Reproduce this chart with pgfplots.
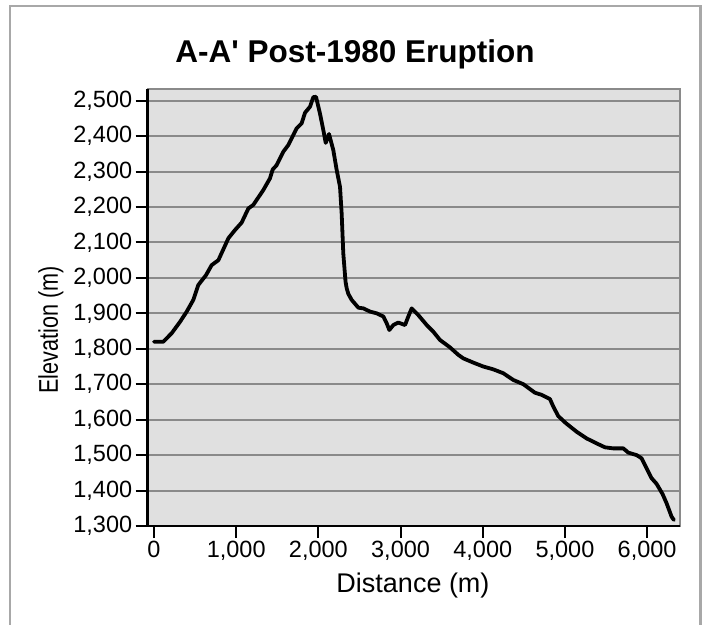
\documentclass[border=0pt]{standalone}
\usepackage{pgfplots}
\pgfplotsset{compat=1.18}
\usepackage{fontspec}
\setmainfont{Liberation Sans}
\definecolor{bg}{HTML}{E0E0E0}
\definecolor{gridc}{HTML}{8A8A8A}
\definecolor{framec}{HTML}{A8A8A8}
\begin{document}
\begin{tikzpicture}
\useasboundingbox (0pt,0pt) rectangle (709pt,624pt);
\draw[framec, line width=2.2pt] (10pt,-5pt) -- (10pt,618pt) -- (700.5pt,618pt) -- (700.5pt,-5pt);
\node[font=\fontsize{31.5}{38}\selectfont\bfseries, anchor=base, inner sep=0pt] at (355pt,561.3pt) {A-A\textquotesingle{} Post-1980 Eruption};
\begin{axis}[
  at={(147.7pt,98pt)}, anchor=south west,
  scale only axis, width=532.3pt, height=437pt,
  xmin=-77, xmax=6400, ymin=1300, ymax=2533,
  xtick={0,1000,...,6000},
  ytick={1300,1400,...,2500},
  xtick pos=bottom, ytick pos=left,
  tick align=outside,
  major tick length=12pt,
  tick style={black, line width=2pt},
  ymajorgrids,
  major grid style={gridc, line width=2pt},
  axis line style={gridc, line width=2pt},
  axis background/.style={fill=bg},
  tick label style={font=\fontsize{23.5}{28}\selectfont},
  /pgf/number format/.cd, 1000 sep={,}, assume math mode=true,
  /pgfplots/.cd,
  xlabel={Distance (m)},
  ylabel={\scalebox{0.8}[1]{Elevation (m)}},
  label style={font=\fontsize{27}{32}\selectfont},
  xlabel style={at={(axis description cs:0.4984,-0.1373)}, anchor=center},
  ylabel style={at={(axis description cs:-0.1817,0.4485)}, anchor=center},
  clip=false,
]
\addplot[black, line width=3.8pt, line join=round, line cap=round] table[row sep=\\] {
x y\\
0 1820\\
113 1820\\
215 1844\\
316 1876\\
398 1905\\
478 1938\\
539 1980\\
633 2008\\
701 2036\\
783 2050\\
905 2112\\
985 2135\\
1066 2156\\
1148 2196\\
1208 2206\\
1330 2248\\
1411 2281\\
1444 2306\\
1492 2318\\
1573 2356\\
1634 2375\\
1735 2422\\
1796 2436\\
1837 2466\\
1898 2483\\
1938 2510\\
1971 2511\\
2019 2464\\
2060 2417\\
2089 2381\\
2129 2406\\
2181 2361\\
2222 2305\\
2263 2257\\
2283 2182\\
2303 2069\\
2318 2025\\
2330 1990\\
2344 1971\\
2364 1955\\
2405 1938\\
2486 1916\\
2547 1914\\
2628 1905\\
2710 1900\\
2791 1891\\
2831 1872\\
2863 1853\\
2912 1867\\
2972 1874\\
3054 1867\\
3094 1891\\
3135 1914\\
3216 1895\\
3318 1867\\
3399 1848\\
3479 1825\\
3601 1804\\
3702 1783\\
3763 1773\\
3885 1761\\
4006 1750\\
4128 1742\\
4250 1731\\
4372 1712\\
4494 1700\\
4635 1676\\
4717 1670\\
4818 1658\\
4858 1637\\
4919 1610\\
5012 1590\\
5142 1566\\
5264 1547\\
5386 1533\\
5487 1522\\
5588 1519\\
5710 1519\\
5771 1507\\
5872 1500\\
5933 1491\\
5993 1463\\
6054 1435\\
6115 1419\\
6188 1390\\
6237 1364\\
6298 1326\\
6326 1317\\
};
\draw[black, line width=2.5pt] (rel axis cs:0,1) -- (rel axis cs:0,0) -- (rel axis cs:1,0);
\end{axis}
\end{tikzpicture}
\end{document}
